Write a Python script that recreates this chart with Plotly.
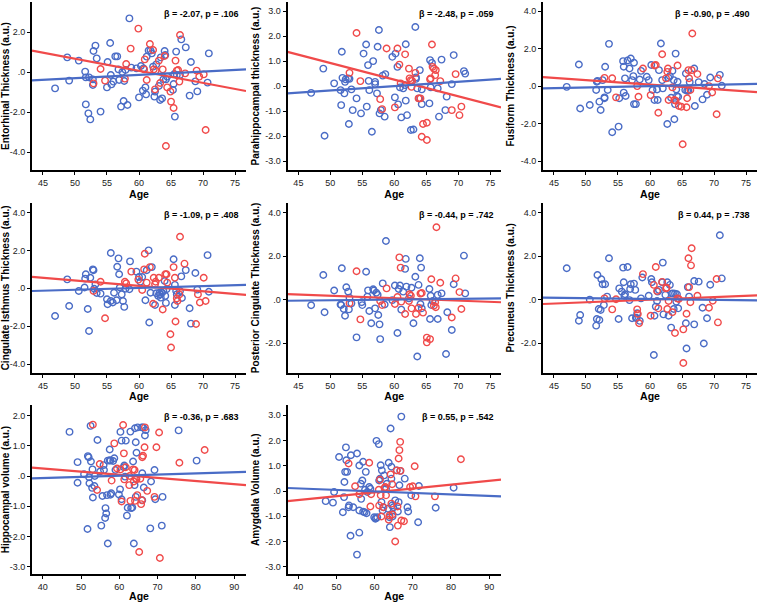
import plotly.graph_objects as go

# ---------------- DATA ----------------
titles = ["Entorhinal Thickness (a.u.)", "Parahippocampal thickness (a.u.)", "Fusiform Thickness (a.u.)",
          "Cingulate Isthmus Thickness (a.u.)", "Posterior Cingulate Thickness (a.u.)", "Precuneus Thickness (a.u.)",
          "Hippocampal volume (a.u.)", "Amygdala Volume (a.u.)"]
stats = ["β = -2.07, p = .106", "β = -2.48, p = .059", "β = -0.90, p = .490",
         "β = -1.09, p = .408", "β = -0.44, p = .742", "β = 0.44, p = .738",
         "β = -0.36, p = .683", "β = 0.55, p = .542"]

# Panel 1 - Entorhinal
p1_blue_age = [46.9,48.8,49.1,50.6,51.6,51.7,51.7,52.1,52.4,52.2,52.8,52.8,52.9,53.2,53.4,54.0,55.0,55.1,55.5,55.6,55.7,56.0,56.3,56.6,56.8,56.9,57.2,57.4,57.6,57.7,57.9,58.2,58.5,58.8,59.6,60.0,60.3,60.6,60.7,61.0,61.2,61.1,61.5,61.8,62.0,62.2,62.5,62.7,63.1,63.3,63.4,63.6,63.8,64.0,64.1,64.2,64.4,65.3,65.4,65.5,65.6,65.8,65.9,66.4,66.6,67.3,67.9,68.1,68.8,69.1,70.7,70.9,62.4]
p1_blue_val = [-0.82,0.73,-0.43,0.57,0.02,-0.27,-1.62,-2.07,-2.37,-0.27,-0.65,-0.37,1.05,1.32,0.68,-1.98,-0.77,0.5,1.45,-0.15,-0.62,-0.48,0.78,0.78,0.13,-0.4,-1.73,0.0,-1.45,-0.45,0.1,-1.65,2.68,0.22,0.18,-1.27,0.3,-0.93,0.18,-0.77,0.77,-1.12,1.07,1.07,0.93,0.27,-0.98,0.38,-0.7,-1.4,0.73,-1.32,-0.37,1.05,0.85,-0.37,-0.23,-0.9,-0.6,-0.1,-2.23,1.02,-0.15,-0.15,1.63,1.23,-1.18,0.5,-0.47,-0.97,-0.53,0.93,-1.23]
p1_red_age = [52.9,54.0,54.7,57.8,58.0,58.7,59.9,60.8,60.9,61.2,61.7,62.2,62.3,62.5,62.6,63.1,63.3,63.7,64.0,64.2,64.4,64.9,65.0,65.4,65.7,65.9,66.1,66.3,66.4,67.2,69.0,69.4,70.1,70.4]
p1_red_val = [-0.57,0.15,-0.43,-0.33,0.4,1.17,2.17,0.13,0.63,-0.4,1.4,1.1,0.13,-0.87,0.07,0.57,-0.55,0.13,0.8,-3.7,-0.77,-0.98,-1.48,-1.8,0.57,0.07,0.1,-0.48,1.85,-0.07,0.07,-0.23,-0.12,-2.9]

# Panel 2 - Parahippocampal
p2_blue_age = [47.0,48.9,49.1,50.6,51.6,51.7,51.8,51.9,52.2,52.3,52.4,52.8,52.9,53.0,53.3,53.5,54.1,54.8,55.2,55.6,55.7,55.9,56.0,56.1,56.5,56.7,57.0,57.0,57.3,57.4,57.6,57.7,57.9,58.2,58.5,58.6,59.7,60.1,60.2,60.5,60.6,60.9,61.1,61.4,61.7,61.8,61.8,62.0,62.6,63.0,63.3,63.4,63.6,63.9,64.0,64.3,64.3,65.5,65.6,65.7,65.9,66.8,67.0,67.4,68.0,68.2,69.0,69.3,70.9,71.1,63.4]
p2_blue_val = [-0.27,0.7,-1.98,0.11,-0.16,-0.76,1.37,0.33,-0.29,0.17,0.27,0.31,-1.51,0.29,-0.13,-0.96,-0.49,-1.09,1.3,1.66,-0.82,0.84,0.21,-0.16,-1.82,1.0,0.17,0.08,-0.29,1.57,2.24,-1.09,-0.96,0.42,-1.22,0.48,1.17,-0.45,1.3,0.77,-0.73,-0.05,-1.25,-0.09,0.04,1.67,-0.58,-1.16,-1.75,-1.73,2.36,0.35,-0.09,-0.49,0.64,-0.72,-0.13,-0.69,1.04,-0.05,0.93,-0.09,-1.22,1.06,-0.96,-0.42,0.08,1.24,0.6,0.5,0.29]
p2_red_age = [53.0,54.1,54.7,57.8,58.1,58.8,60.1,60.5,60.8,61.0,61.7,62.3,62.4,62.6,62.7,63.3,63.8,64.1,64.3,64.5,65.1,65.1,65.6,65.7,65.9,66.0,66.2,66.4,66.5,67.2,69.0,69.6,70.2,70.5,62.8]
p2_red_val = [0.53,2.12,0.2,-0.52,-0.92,1.5,-0.85,1.5,0.86,0.11,1.27,0.7,0.31,0.24,-0.03,0.53,-0.49,-0.49,-2.02,-1.51,-1.46,-2.15,0.27,0.31,1.66,0.77,0.7,0.44,0.64,0.2,-0.96,0.48,-1.16,-0.82,0.21]

# Panel 3 - Fusiform
p3_blue_age = [47.0,48.9,49.1,50.6,51.6,51.7,51.8,52.1,52.3,52.6,52.9,52.9,53.0,53.4,53.6,54.1,55.1,55.2,55.8,55.9,55.9,56.1,56.2,56.5,56.8,57.0,57.2,57.4,57.5,57.5,57.8,58.4,58.6,59.5,59.8,60.2,60.4,60.7,61.1,61.2,61.4,61.7,61.9,62.0,62.7,62.9,63.1,63.3,63.5,63.7,63.8,63.9,64.0,64.1,64.2,64.3,64.4,65.5,65.6,65.8,66.0,66.2,66.9,67.0,67.6,68.2,68.5,68.9,69.4,70.9,71.2]
p3_blue_val = [-0.04,1.15,-1.19,-1.01,-0.21,0.23,0.28,-0.83,-1.27,0.32,-0.6,-0.65,1.03,-0.21,2.25,-2.46,-2.16,-0.65,1.33,1.03,-0.35,0.41,-0.53,1.36,0.94,1.47,0.32,0.53,1.24,-0.96,-0.96,0.35,0.81,0.5,0.32,1.12,-0.21,-0.74,-0.18,-0.74,0.85,2.27,0.32,-0.12,-2.02,0.44,0.53,-0.62,0.81,0.32,-1.77,-0.96,1.73,-0.18,-0.53,0.23,-0.57,-0.21,0.67,-0.25,-0.25,0.21,0.94,-1.06,0.21,-0.71,0.11,-0.46,0.46,0.6,0.02]
p3_red_age = [52.9,54.1,54.7,58.0,58.2,58.9,60.1,60.7,60.9,61.3,61.9,62.5,62.7,62.8,62.9,63.5,63.8,64.3,64.5,64.9,65.1,65.7,65.8,66.0,66.1,66.3,66.5,66.6,67.4,69.2,69.7,70.4,70.6,64.0]
p3_red_val = [0.44,0.42,-0.6,0.0,-0.57,0.94,-0.48,1.1,1.12,-1.42,1.7,0.41,0.76,0.94,-0.74,-0.07,-0.74,1.1,-1.06,-1.1,-3.1,-1.13,-0.65,0.85,0.42,-0.21,0.85,2.8,0.64,0.0,-0.34,-1.5,0.41,-0.78]

# Panel 4 - Cingulate Isthmus
p4_blue_age = [46.9,48.8,49.1,50.6,51.5,51.6,51.7,52.0,52.2,52.4,52.8,52.9,53.0,53.2,53.4,54.0,55.0,55.1,55.6,55.6,55.9,56.1,56.5,56.6,56.8,56.9,57.0,57.3,57.5,57.7,57.9,58.5,58.6,59.6,60.0,60.2,60.5,61.0,61.2,61.5,61.6,61.8,62.0,62.5,62.7,63.0,63.2,63.3,63.4,63.6,63.8,64.0,64.1,64.2,64.3,65.4,65.6,65.6,65.8,65.9,66.4,66.6,66.7,67.3,67.9,68.1,68.8,69.1,70.7,70.9]
p4_blue_val = [-1.46,0.47,-0.93,-0.14,0.04,0.51,0.74,-1.09,-2.25,0.56,1.0,0.95,-0.02,0.21,-0.25,-0.28,-0.58,-0.84,1.86,-0.67,-0.75,-0.23,-0.63,1.14,1.58,0.74,0.04,-0.32,-0.67,-0.98,-0.02,-0.05,1.42,0.88,0.6,0.35,0.6,-0.63,0.95,2.0,-1.8,-0.23,1.12,-0.88,-0.26,-0.4,-0.23,-0.32,-0.49,-0.23,-0.14,0.39,-0.4,-0.77,-0.05,1.53,-0.88,0.18,-0.14,-0.32,-0.14,0.63,-0.51,0.96,-1.05,-1.86,0.81,-0.07,1.75,-0.18]
p4_red_age = [52.9,54.0,54.7,57.8,58.0,58.8,59.9,60.5,60.8,60.9,61.2,61.7,62.2,62.3,62.5,62.6,63.1,63.7,64.1,64.3,64.4,64.9,65.0,65.4,65.6,65.7,65.9,66.0,66.3,66.4,67.1,68.9,69.2,69.5,70.1,70.4]
p4_red_val = [-0.14,0.35,-1.58,0.35,0.26,0.88,0.46,-0.09,1.0,1.82,0.3,1.12,-0.81,0.56,0.21,0.35,0.56,-1.12,0.74,0.74,0.3,-2.42,-3.12,1.12,0.56,-1.75,-0.53,-0.67,-0.32,2.72,1.3,-1.88,-0.32,-0.75,0.56,-0.67]

# Panel 5 - Posterior Cingulate
p5_blue_age = [47.0,48.9,49.1,50.6,51.6,51.7,51.8,52.1,52.3,52.5,52.8,52.9,53.0,53.3,54.1,54.9,55.0,55.6,55.8,55.9,56.1,56.4,56.7,56.8,57.0,57.2,57.4,57.5,57.7,57.8,58.2,58.5,58.7,59.7,60.1,60.5,60.7,60.9,61.1,61.4,61.7,61.8,61.9,62.3,62.7,63.0,63.3,63.6,63.8,64.0,64.1,64.2,64.3,65.5,65.6,65.7,65.8,66.0,66.8,66.8,67.4,68.1,68.3,69.0,69.3,70.9,71.1]
p5_blue_val = [-0.26,1.14,-0.58,0.42,-0.22,-0.25,1.45,-0.43,-0.74,0.57,0.37,-0.45,0.09,-0.17,-1.74,-0.12,-0.25,1.29,0.14,0.43,-0.52,-1.09,0.48,0.42,-0.4,0.32,0.22,-0.71,-1.14,-1.82,0.75,-0.22,2.71,-0.02,0.65,-1.54,0.49,0.65,-0.46,0.37,1.42,1.88,0.6,0.06,0.55,-1.09,1.06,-2.62,0.68,1.91,-0.2,1.48,-0.4,0.49,-0.89,0.18,-0.25,-0.06,0.22,-0.89,0.29,-2.51,-0.58,-1.4,0.71,2.03,0.29]
p5_red_age = [53.0,54.1,54.7,57.8,58.1,58.8,60.1,60.5,60.8,61.0,61.1,61.7,62.3,62.4,62.6,62.7,63.4,63.8,64.1,64.3,64.5,65.1,65.1,65.6,65.8,66.2,66.4,66.5,67.2,69.0,69.6,70.2,70.5,66.6]
p5_red_val = [-0.17,1.31,-0.91,-0.06,-0.25,0.52,-0.2,0.12,1.95,1.48,-0.09,-0.66,-0.06,0.25,0.18,-0.4,-0.66,-0.37,0.28,0.31,-0.6,-1.75,-1.97,-1.82,0.94,-0.28,-0.12,-0.35,0.78,-0.82,0.98,0.35,-0.43,3.34]

# Panel 6 - Precuneus
p6_blue_age = [47.0,48.9,49.1,50.6,51.6,51.7,51.8,52.0,52.1,52.3,52.4,52.6,52.8,53.0,53.3,53.6,55.1,55.2,55.6,55.8,55.9,56.0,56.1,56.5,56.8,56.9,57.0,57.2,57.5,57.7,57.8,57.9,58.0,58.4,58.6,58.8,59.8,60.2,60.3,60.6,60.7,60.9,61.1,61.2,61.4,61.9,62.0,62.1,62.4,62.7,62.9,63.1,63.3,63.4,63.6,63.7,63.9,64.1,64.2,64.3,64.4,65.6,65.7,65.9,66.1,66.9,66.9,67.6,68.2,68.4,68.9,69.4,70.9,71.2]
p6_blue_val = [1.45,-0.97,-0.71,0.0,-1.2,-0.89,1.14,-0.43,-0.94,-0.48,0.94,0.71,-0.25,0.71,0.14,1.91,-0.89,0.52,0.37,1.48,0.8,0.18,0.25,1.51,-0.02,0.49,0.71,-0.86,0.74,0.45,-0.83,-0.86,-0.63,-0.98,0.06,1.02,0.18,0.95,0.8,-2.55,-0.74,-0.32,-0.06,0.37,0.45,0.8,1.71,-0.68,0.22,0.8,-0.74,0.68,-1.29,0.28,0.29,-0.43,0.28,-0.09,0.25,0.06,-0.4,-1.09,-2.25,0.58,0.14,0.86,-1.14,0.83,-0.37,-2.02,-0.86,0.69,2.97,0.98]
p6_red_age = [52.9,54.1,54.7,58.0,58.1,58.3,58.9,60.1,60.6,60.9,61.1,61.3,61.9,62.5,62.6,62.7,62.9,63.5,63.9,64.3,64.5,65.2,65.2,65.7,66.0,66.1,66.3,66.4,66.5,67.4,69.2,69.8,70.4,70.6]
p6_red_val = [0.06,-0.45,0.02,-0.45,-0.66,-1.09,1.18,-0.74,0.68,1.51,0.4,-0.4,0.82,0.52,0.55,-0.43,-0.06,-0.58,-1.54,0.06,0.03,-1.37,-2.92,-0.65,1.91,0.58,-0.12,1.58,2.37,0.18,-0.37,-0.05,0.95,-1.05]

# Panel 7 - Hippocampal volume
p7_blue_age = [47.0,49.1,49.1,50.8,51.7,51.8,52.0,52.1,52.2,52.5,52.6,52.9,53.0,53.1,53.5,53.6,54.3,55.0,55.3,55.6,55.9,56.0,56.3,56.4,56.6,56.8,57.0,57.0,57.5,57.5,57.7,57.7,57.9,58.4,58.7,59.0,59.9,60.2,60.3,60.6,60.6,61.2,61.3,61.5,61.7,62.0,62.2,62.9,63.1,63.4,63.6,63.8,64.0,64.1,64.3,64.3,64.5,64.8,65.9,66.0,66.0,66.2,66.4,66.7,66.9,68.1,68.3,69.2,69.4,71.1,71.3,75.5,80.2]
p7_blue_val = [1.46,0.46,-0.22,0.06,-1.75,0.66,0.62,-0.04,-0.24,1.66,0.48,-0.39,0.22,-0.71,-0.33,0.0,1.19,0.15,-1.64,-0.66,0.36,0.2,-1.39,-1.06,-1.24,-0.63,0.51,-2.23,0.88,0.52,0.51,-0.62,-0.57,0.5,0.59,0.2,-0.61,-0.44,1.46,-0.77,1.17,0.29,0.35,-0.02,1.17,-1.31,-1.05,1.47,-1.06,-1.04,0.48,-2.23,-0.3,1.58,1.12,-0.69,0.77,1.61,1.61,0.09,-0.8,1.61,-0.38,1.34,1.52,-1.73,-0.18,0.2,-0.77,-1.64,-0.69,1.51,0.51]
p7_red_age = [53.1,54.2,54.9,58.0,58.7,59.4,60.3,60.6,61.0,61.2,61.3,61.7,62.6,62.7,62.9,63.6,63.8,64.0,64.1,64.3,64.5,64.7,65.2,65.5,65.7,65.9,66.0,66.2,66.6,66.7,67.3,69.2,69.7,70.4,70.6,75.7,82.3]
p7_red_val = [1.7,-0.46,0.4,-0.15,1.08,0.25,0.22,-0.84,1.69,0.75,-0.11,0.29,-0.3,0.0,-0.82,0.22,-0.18,0.2,-0.82,-0.07,-0.11,-0.63,-2.51,-0.09,-0.93,-0.8,0.62,0.67,0.95,1.61,-0.49,-0.69,0.95,1.44,-2.71,0.44,0.86]

# Panel 8 - Amygdala volume
p8_blue_age = [47.2,49.1,49.4,50.7,51.7,52.0,52.1,52.3,52.5,52.6,52.8,53.2,53.3,53.7,53.8,54.4,55.4,56.0,56.0,56.0,56.4,56.5,56.8,57.0,57.0,57.4,57.5,57.7,57.9,58.1,58.6,58.9,59.9,60.2,60.4,60.5,60.7,61.1,61.2,61.4,61.6,61.8,61.9,62.1,62.3,62.5,63.0,63.2,63.5,63.7,63.9,64.0,64.2,64.4,64.4,64.6,64.7,64.9,65.4,65.8,66.1,66.3,66.5,66.7,67.0,67.9,68.6,68.8,69.6,71.4,71.6,76.0,80.7,55.4]
p8_blue_val = [-0.4,-0.46,-0.04,1.35,-0.84,-0.24,0.36,0.76,1.73,1.22,0.76,-0.64,-0.57,-1.77,1.42,-0.64,1.49,1.01,-0.77,-1.65,0.29,-0.31,0.42,-0.82,1.16,-0.84,0.05,0.76,-0.88,-0.04,0.16,0.09,-1.04,-1.1,-1.08,1.99,-1.04,1.86,0.42,0.49,1.02,-0.44,0.82,-0.77,-0.64,0.62,0.09,0.29,-0.7,1.12,-1.04,-1.43,2.48,0.96,0.49,-0.57,-1.01,-0.64,-0.37,0.82,-0.81,-0.44,0.23,0.8,2.95,0.49,-0.64,-0.81,-0.17,-1.24,0.2,-0.66,0.13,-2.52]
p8_red_age = [53.2,54.9,56.0,58.6,58.9,59.1,61.1,61.2,61.4,61.6,61.8,62.3,62.6,62.8,63.0,63.7,63.9,64.2,64.4,64.6,64.7,65.4,65.8,66.0,66.1,66.3,66.5,66.7,66.8,67.0,67.7,69.3,70.0,70.5,70.7,75.8,82.6]
p8_red_val = [1.09,0.19,-0.13,1.12,-0.61,-0.13,0.05,-0.57,0.45,-0.17,-1.01,-0.64,0.12,0.16,-0.17,-1.14,-0.97,0.66,-0.5,0.27,-0.93,-2.0,0.82,-0.61,-1.37,1.29,1.62,1.95,0.8,-1.17,-1.2,0.16,0.19,0.98,-0.21,-0.21,1.26]

# Fitted regression lines: values at the left and right end of the age axis
red_fit = [[1.07, -0.95], [1.37, -0.85], [0.48, -0.32], [0.6, -0.35], [0.26, -0.12], [-0.2, 0.2], [0.28, -0.3], [-0.4, 0.45]]
blue_fit = [[-0.42, 0.13], [-0.29, 0.29], [-0.12, 0.12], [-0.14, 0.18], [-0.05, 0.06], [0.09, -0.03], [-0.08, 0.14], [0.12, -0.21]]

x_ranges = [[43.3, 76.7]] * 6 + [[37.2, 93.1]] * 2
x_ticks = [[45, 50, 55, 60, 65, 70, 75]] * 6 + [[40, 50, 60, 70, 80, 90]] * 2
y_ranges = [[-4.9, 3.5], [-3.35, 3.36], [-4.47, 4.48], [-4.45, 4.5], [-3.37, 4.46], [-3.37, 4.46], [-3.25, 2.35], [-3.3, 3.41]]
y_ticks = [[-4, -2, 0, 2], [-3, -2, -1, 0, 1, 2, 3], [-4, -2, 0, 2, 4], [-4, -2, 0, 2, 4],
           [-2, 0, 2, 4], [-2, 0, 2, 4], [-3, -2, -1, 0, 1, 2], [-3, -2, -1, 0, 1, 2, 3]]

blue_sets = [(p1_blue_age, p1_blue_val), (p2_blue_age, p2_blue_val), (p3_blue_age, p3_blue_val), (p4_blue_age, p4_blue_val),
             (p5_blue_age, p5_blue_val), (p6_blue_age, p6_blue_val), (p7_blue_age, p7_blue_val), (p8_blue_age, p8_blue_val)]
red_sets = [(p1_red_age, p1_red_val), (p2_red_age, p2_red_val), (p3_red_age, p3_red_val), (p4_red_age, p4_red_val),
            (p5_red_age, p5_red_val), (p6_red_age, p6_red_val), (p7_red_age, p7_red_val), (p8_red_age, p8_red_val)]

# ---------------- STYLE / LAYOUT ----------------
W, H = 758, 604
BLUE = "#4a6cc6"
RED = "#f04a4a"
FONT = "Liberation Sans"
col_px = [(32, 246), (287.5, 501), (543, 757)]
row_px = [(2, 170), (203, 372.7), (405, 574.3)]


def fmt(v):
    s = "%.1f" % v
    if s.startswith("0."):
        s = s[1:]
    if s.startswith("-0."):
        s = "-" + s[2:]
    return s


fig = go.Figure()
layout = dict(width=W, height=H, margin=dict(l=0, r=0, t=0, b=0, autoexpand=False),
              paper_bgcolor="white", plot_bgcolor="white", showlegend=False,
              font=dict(family=FONT, color="black"))
annotations = []

for i in range(8):
    r, c = divmod(i, 3)
    n = i + 1
    xa = "x" if n == 1 else "x%d" % n
    ya = "y" if n == 1 else "y%d" % n
    bx, by = blue_sets[i]
    rx, ry = red_sets[i]
    mk = dict(symbol="circle-open", size=6.5, line=dict(width=1.4))
    fig.add_trace(go.Scatter(x=bx, y=by, mode="markers", marker=dict(color=BLUE, **mk), xaxis=xa, yaxis=ya,
                             cliponaxis=False))
    fig.add_trace(go.Scatter(x=rx, y=ry, mode="markers", marker=dict(color=RED, **mk), xaxis=xa, yaxis=ya,
                             cliponaxis=False))
    fig.add_trace(go.Scatter(x=x_ranges[i], y=red_fit[i], mode="lines", line=dict(color=RED, width=2.2),
                             xaxis=xa, yaxis=ya))
    fig.add_trace(go.Scatter(x=x_ranges[i], y=blue_fit[i], mode="lines", line=dict(color=BLUE, width=2.2),
                             xaxis=xa, yaxis=ya))

    x0, x1 = col_px[c]
    y0, y1 = row_px[r]
    xkey = "xaxis" if n == 1 else "xaxis%d" % n
    ykey = "yaxis" if n == 1 else "yaxis%d" % n
    layout[xkey] = dict(domain=[x0 / W, x1 / W], anchor=ya, range=x_ranges[i], tickvals=x_ticks[i],
                        ticktext=[str(t) for t in x_ticks[i]], showgrid=False, zeroline=False, automargin=False,
                        showline=True, linecolor="black", linewidth=2, ticks="outside", ticklen=3,
                        tickcolor="black", tickfont=dict(size=9, family=FONT, color="#222"),
                        title=dict(text="<b>Age</b>", font=dict(size=10.5, family=FONT), standoff=2))
    layout[ykey] = dict(domain=[1 - y1 / H, 1 - y0 / H], anchor=xa, range=y_ranges[i], tickvals=y_ticks[i],
                        ticktext=[fmt(t) for t in y_ticks[i]], showgrid=False, zeroline=False, automargin=False,
                        showline=True, linecolor="black", linewidth=2, ticks="outside", ticklen=3,
                        tickcolor="black", tickfont=dict(size=9, family=FONT, color="#222"),
                        title=dict(text="<b>%s</b>" % titles[i], font=dict(size=10, family=FONT), standoff=4))
    annotations.append(dict(text="<b>%s</b>" % stats[i], xref="%s domain" % xa, yref="%s domain" % ya,
                            x=0.975, y=1 - 12 / (y1 - y0), xanchor="right", yanchor="middle", showarrow=False,
                            font=dict(size=9, family=FONT, color="black")))

layout["annotations"] = annotations
fig.update_layout(**layout)
fig.write_html("out.html", config={"displayModeBar": False},
               post_script="document.body.style.margin='0';document.body.style.overflow='hidden';")
